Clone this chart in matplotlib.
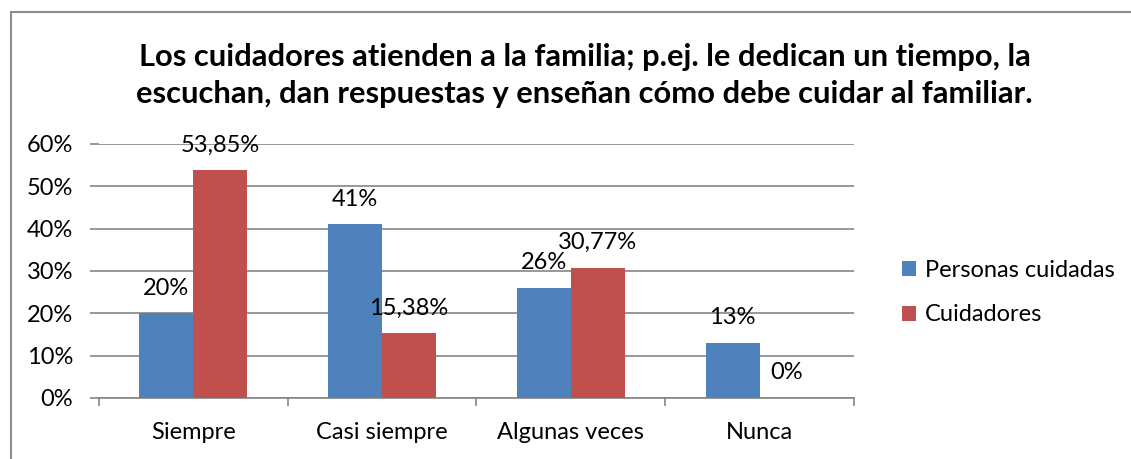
import matplotlib.pyplot as plt
from matplotlib.lines import Line2D
import numpy as np

categories = ["Siempre", "Casi siempre", "Algunas veces", "Nunca"]
personas = [20, 41, 26, 13]
cuidadores = [53.85, 15.38, 30.77, 0]
personas_labels = ["20%", "41%", "26%", "13%"]
cuidadores_labels = ["53,85%", "15,38%", "30,77%", "0%"]
series_names = ["Personas cuidadas", "Cuidadores"]
title = ("Los cuidadores atienden a la familia; p.ej. le dedican un tiempo, la\n"
         "escuchan, dan respuestas y enseñan cómo debe cuidar al familiar.")

BLUE = "#4F81BD"
RED = "#C0504D"
GRID = "#868686"
FS = 17

plt.rcParams["font.family"] = ["Lato", "DejaVu Sans"]

fig = plt.figure(figsize=(11.31, 4.59), dpi=100)
ax = fig.add_axes([0.0875, 0.1329, 0.6676, 0.5534])

x = np.arange(len(categories))
w = 0.286
b1 = ax.bar(x - w / 2, personas, w, color=BLUE, label=series_names[0], zorder=3)
b2 = ax.bar(x + w / 2, cuidadores, w, color=RED, label=series_names[1], zorder=3)

for bars, labels in ((b1, personas_labels), (b2, cuidadores_labels)):
    for rect, lab in zip(bars, labels):
        ax.annotate(lab, (rect.get_x() + rect.get_width() / 2, rect.get_height()),
                    xytext=(0, 18), textcoords="offset points",
                    ha="center", va="center", fontsize=FS, zorder=4)

ax.set_xlim(-0.5, len(categories) - 0.5)
ax.set_ylim(0, 60)
ax.set_yticks(range(0, 61, 10))
ax.set_yticklabels([f"{v}%" for v in range(0, 61, 10)])
ax.yaxis.grid(True, color=GRID, linewidth=1.2, zorder=0)
ax.set_axisbelow(True)

ax.set_xticks(x)
ax.set_xticklabels(categories)
ax.set_xticks(np.arange(-0.5, len(categories)), minor=True)
ax.tick_params(axis="x", which="major", length=0, pad=17, labelsize=FS)
ax.tick_params(axis="x", which="minor", length=6, width=1.2, color=GRID)
ax.tick_params(axis="y", length=6.5, width=1.2, color=GRID, pad=12, labelsize=FS)

for side in ("left", "right", "top"):
    ax.spines[side].set_visible(False)
ax.spines["bottom"].set_color(GRID)
ax.spines["bottom"].set_linewidth(1.2)

fig.text(0.517, 0.835, title, ha="center", va="center", fontsize=22.2,
         fontweight="bold", linespacing=1.4)

ax.legend(loc="center left", bbox_to_anchor=(1.035, 0.415), frameon=False,
          fontsize=FS, handlelength=0.6, handleheight=0.6, handletextpad=0.4,
          labelspacing=1.0)

# chart frame
fig.add_artist(Line2D([11 / 1131, 11 / 1131], [0, 1 - 12 / 459],
                      transform=fig.transFigure, color="#8C8C8C", linewidth=1.5))
fig.add_artist(Line2D([11 / 1131, 1], [1 - 12 / 459, 1 - 12 / 459],
                      transform=fig.transFigure, color="#8C8C8C", linewidth=1.5))

fig.savefig("out.png", dpi=100)
